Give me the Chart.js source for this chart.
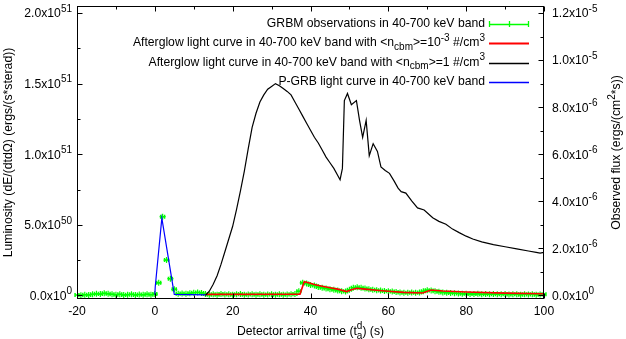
<!DOCTYPE html>
<html><head><meta charset="utf-8">
<script src="https://cdn.jsdelivr.net/npm/chart.js@4/dist/chart.umd.min.js"></script>
<style>html,body{margin:0;padding:0;background:#fff}#wrap{width:626px;height:339px}</style>
</head><body><div id="wrap"><canvas id="c" width="626" height="339"></canvas></div>
<script>
// Luminosity values are in units of 1e51 ergs/(s*sterad)
const grbmTime = [-20,-19,-18,-17,-16,-15,-14,-13,-12,-11,-10,-9,-8,-7,-6,-5,-4,-3,-2,-1,
  0,1,2,3,4,5,6,7,8,9,10,11,12,
  13,14,15,16,17,18,19,20,21,22,23,24,25,26,27,28,29,30,31,32,33,34,35,36,
  37,38,39,40,41,42,43,44,45,46,47,48,49,50,51,52,53,54,55,56,57,58,59,60,
  61,62,63,64,65,66,67,68,69,70,71,72,73,74,75,76,77,78,79,80,
  81,82,83,84,85,86,87,88,89,90,91,92,93,94,95,96,97,98,99,100];
const grbmLumE51 = [0.004,0.002,0.006,0.004,0.008,0.012,0.010,0.016,0.012,0.008,0.006,0.008,0.004,0.006,0.009,0.004,0.007,0.005,0.009,0.006,
  0.010,0.090,0.558,0.251,0.119,0.044,0.012,0.015,0.012,0.016,0.020,0.022,0.018,
  0.010,0.006,0.008,0.005,0.010,0.007,0.009,0.006,0.008,0.010,0.005,0.007,0.009,0.006,0.008,0.005,0.007,0.009,0.006,0.008,0.005,0.007,0.009,0.010,
  0.030,0.090,0.085,0.075,0.070,0.060,0.055,0.050,0.045,0.040,0.035,0.030,0.028,0.040,0.055,0.058,0.055,0.050,0.045,0.040,0.038,0.035,0.032,0.030,
  0.028,0.025,0.022,0.020,0.020,0.022,0.020,0.022,0.030,0.038,0.036,0.030,0.026,0.022,0.020,0.018,0.016,0.015,0.013,0.012,
  0.011,0.010,0.012,0.009,0.010,0.008,0.011,0.009,0.008,0.010,0.007,0.009,0.008,0.006,0.009,0.007,0.008,0.006,0.007,0.008];
const lowDensTime = [13,37.3,38.4,39.5,41,43,45,47,49.3,50.5,51.9,54,57,60,64,68.8,71,74,80,90,100];
const lowDensLumE51 = [0.008,0.010,0.098,0.090,0.078,0.066,0.055,0.045,0.028,0.040,0.051,0.045,0.037,0.030,0.022,0.018,0.039,0.032,0.025,0.017,0.012];
const highDensTime = [13,14,15,16,17,18,19,20,21,22,23,24,25,26,27,28,29,30,31,32,33,34,35,36,37,38,39,40,41,42,43,44,45,46,47,47.6,48.2,48.7,49.5,50.5,51.8,52.6,53.4,54.3,55.1,56.1,57.2,58.1,59.2,60.3,61.5,62.5,63.3,64.5,66,67.5,69.2,71.4,73,74.8,76.5,78.2,80,81.7,84,87,90,93,96,98,99,100];
const highDensLumE51 = [0.0,0.03,0.08,0.14,0.22,0.31,0.40,0.49,0.61,0.74,0.88,1.04,1.19,1.29,1.37,1.42,1.46,1.48,1.50,1.485,1.465,1.445,1.42,1.37,1.32,1.27,1.22,1.17,1.12,1.08,1.03,0.98,0.94,0.90,0.85,0.82,0.90,1.38,1.43,1.35,1.38,1.24,1.12,1.24,0.99,1.075,1.02,0.91,0.885,0.865,0.81,0.76,0.735,0.725,0.67,0.62,0.605,0.55,0.525,0.505,0.47,0.445,0.42,0.40,0.38,0.36,0.345,0.33,0.315,0.305,0.30,0.305];
const pgrbTime = [0,0.1,1.8,5,13];
const pgrbLumE51 = [0.005,0.06,0.547,0.008,0.004];

const xMajorTicks = [-20,0,20,40,60,80,100];
const xMinorTicks = [-10,10,30,50,70,90];
const yMajorTicksE51 = [0,0.5,1.0,1.5,2.0];
const yMinorTicksE51 = [0.25,0.75,1.25,1.75];
const yLabelMant = ['0.0','5.0','1.0','1.5','2.0'];
const yLabelExp = ['0','50','51','51','51'];
const y2MajorTicks = [0,2e-6,4e-6,6e-6,8e-6,1e-5,1.2e-5];
const y2MinorTicks = [1e-6,3e-6,5e-6,7e-6,9e-6,1.1e-5];
const y2LabelMant = ['0.0','2.0','4.0','6.0','8.0','1.0','1.2'];
const y2LabelExp = ['0','-6','-6','-6','-6','-5','-5'];
const fluxPerLumE51 = 6e-6;

const legendItems = [
  {parts:[['GRBM observations in 40-700 keV band']], color:'#00ff00', kind:'err'},
  {parts:[['Afterglow light curve in 40-700 keV band with <n'],['cbm','sub'],['>=10'],['-3','sup'],[' #/cm'],['3','sup']], color:'#ff0000'},
  {parts:[['Afterglow light curve in 40-700 keV band with <n'],['cbm','sub'],['>=1 #/cm'],['3','sup']], color:'#000000'},
  {parts:[['P-GRB light curve in 40-700 keV band']], color:'#0000ff'}
];

const FONT = '"Liberation Sans", Arial, Helvetica, sans-serif';
const FS = 12.2, SFS = 10;
function pw(ctx, p){
  if (p[1]==='stack'){ ctx.font = SFS+'px '+FONT; return Math.max(ctx.measureText(p[0]).width, ctx.measureText(p[2]).width); }
  ctx.font = (p[1]?SFS:FS)+'px '+FONT; return ctx.measureText(p[0]).width;
}
function richW(ctx, parts){ let w=0; for(const p of parts) w+=pw(ctx,p); return w; }
function drawRich(ctx, parts, x, y, align){
  const w = richW(ctx, parts);
  let cx = align==='right'? x-w : align==='center'? x-w/2 : x;
  ctx.textBaseline='middle'; ctx.textAlign='left';
  for(const p of parts){
    const wi = pw(ctx,p);
    if (p[1]==='sup'){ ctx.font=SFS+'px '+FONT; ctx.fillText(p[0],cx,y-5); }
    else if (p[1]==='sub'){ ctx.font=SFS+'px '+FONT; ctx.fillText(p[0],cx,y+4); }
    else if (p[1]==='stack'){ ctx.font=SFS+'px '+FONT; ctx.fillText(p[0],cx,y+4); ctx.fillText(p[2],cx,y-6); }
    else { ctx.font=FS+'px '+FONT; ctx.fillText(p[0],cx,y); }
    cx += wi;
  }
}

const grbmData = grbmTime.map((t,i)=>({x:t,y:grbmLumE51[i]}));
const lowData = lowDensTime.map((t,i)=>({x:t,y:lowDensLumE51[i]}));
const highData = highDensTime.map((t,i)=>({x:t,y:highDensLumE51[i]}));
const pgrbData = pgrbTime.map((t,i)=>({x:t,y:pgrbLumE51[i]}));

const errPlugin = {
  id:'err',
  beforeDatasetsDraw(chart){
    const ctx=chart.ctx, xs=chart.scales.x, ys=chart.scales.y;
    ctx.save(); ctx.strokeStyle='#00ff00'; ctx.lineWidth=1.5;
    ctx.beginPath();
    grbmTime.forEach((t,i)=>{
      const py = ys.getPixelForValue(grbmLumE51[i]);
      const a = xs.getPixelForValue(t-0.5), b = xs.getPixelForValue(t+0.5);
      ctx.moveTo(a,py); ctx.lineTo(b,py);
      ctx.moveTo(a,py-2); ctx.lineTo(a,py+2);
      ctx.moveTo(b,py-2); ctx.lineTo(b,py+2);
    });
    ctx.stroke(); ctx.restore();
  }
};

const framePlugin = {
  id:'frame',
  afterDraw(chart){
    const ctx=chart.ctx, a=chart.chartArea, xs=chart.scales.x, ys=chart.scales.y, y2=chart.scales.y2;
    ctx.save();
    ctx.strokeStyle='#000'; ctx.lineWidth=1;
    const L=Math.round(a.left)+0.5, R=Math.round(a.right)-0.5, T=Math.round(a.top)+0.5, B=Math.round(a.bottom)-0.5;
    ctx.strokeRect(L,T,R-L,B-T);
    ctx.beginPath();
    const tick=(ticks,len)=>{
      for(const v of ticks){ const px=Math.round(xs.getPixelForValue(v))+0.5;
        ctx.moveTo(px,B); ctx.lineTo(px,B-len); ctx.moveTo(px,T); ctx.lineTo(px,T+len); }
    };
    tick(xMajorTicks,5); tick(xMinorTicks,3);
    for(const v of yMajorTicksE51){ const py=Math.round(ys.getPixelForValue(v))+0.5; ctx.moveTo(L,py); ctx.lineTo(L+5,py); }
    for(const v of yMinorTicksE51){ const py=Math.round(ys.getPixelForValue(v))+0.5; ctx.moveTo(L,py); ctx.lineTo(L+3,py); }
    for(const v of y2MajorTicks){ const py=Math.round(y2.getPixelForValue(v))+0.5; ctx.moveTo(R,py); ctx.lineTo(R-5,py); }
    for(const v of y2MinorTicks){ const py=Math.round(y2.getPixelForValue(v))+0.5; ctx.moveTo(R,py); ctx.lineTo(R-3,py); }
    ctx.stroke();
    ctx.fillStyle='#000';
    xMajorTicks.forEach(v=>drawRich(ctx,[[String(v)]],xs.getPixelForValue(v),a.bottom+13,'center'));
    yMajorTicksE51.forEach((v,i)=>drawRich(ctx,[[yLabelMant[i]+'x10'],[yLabelExp[i],'sup']],a.left-5,ys.getPixelForValue(v)+1,'right'));
    y2MajorTicks.forEach((v,i)=>drawRich(ctx,[[y2LabelMant[i]+'x10'],[y2LabelExp[i],'sup']],a.right+8,y2.getPixelForValue(v)+1,'left'));
    drawRich(ctx,[['Detector arrival time (t'],['a','stack','d'],[') (s)']],(a.left+a.right)/2,a.bottom+33,'center');
    ctx.save(); ctx.translate(9,(a.top+a.bottom)/2); ctx.rotate(-Math.PI/2);
    drawRich(ctx,[['Luminosity (dE/(dtd\u03A9) (ergs/(s*sterad))']],0,0,'center'); ctx.restore();
    ctx.save(); ctx.translate(617,(a.top+a.bottom)/2); ctx.rotate(-Math.PI/2);
    drawRich(ctx,[['Observed flux (ergs/(cm'],['2','sup'],['*s))']],0,0,'center'); ctx.restore();
    const rows=[24,43,62.5,82];
    legendItems.forEach((it,i)=>{
      const y=rows[i];
      ctx.fillStyle='#000';
      drawRich(ctx,it.parts,485,y,'right');
      ctx.strokeStyle=it.color; ctx.lineWidth=(it.color==='#ff0000')?2:1.3;
      ctx.beginPath(); ctx.moveTo(489,Math.round(y)+0.5); ctx.lineTo(529,Math.round(y)+0.5);
      if(it.kind==='err'){ ctx.moveTo(489.5,y-3); ctx.lineTo(489.5,y+3); ctx.moveTo(528.5,y-3); ctx.lineTo(528.5,y+3); ctx.moveTo(509.5,y-3); ctx.lineTo(509.5,y+3); }
      ctx.stroke();
    });
    ctx.restore();
  }
};

new Chart(document.getElementById('c'),{
  type:'line',
  data:{datasets:[
    {label:'GRBM observations in 40-700 keV band',data:grbmData,showLine:false,pointStyle:'cross',pointRadius:3,borderColor:'#00ff00',backgroundColor:'#00ff00',borderWidth:1.2,order:4},
    {label:'Afterglow n=1e-3',data:lowData,borderColor:'#ff0000',borderWidth:1.6,pointRadius:0,tension:0,order:3},
    {label:'Afterglow n=1',data:highData,borderColor:'#000000',borderWidth:1.2,pointRadius:0,tension:0,order:2},
    {label:'P-GRB',data:pgrbData,borderColor:'#0000ff',borderWidth:1.2,pointRadius:0,tension:0,order:1}
  ]},
  options:{
    responsive:false, animation:false, devicePixelRatio:1,
    layout:{padding:{left:77,right:82,top:6,bottom:40}},
    plugins:{legend:{display:false},tooltip:{enabled:false}},
    scales:{
      x:{type:'linear',min:-20,max:100,display:false},
      y:{type:'linear',min:-0.0248,max:2.0496,display:false},
      y2:{type:'linear',position:'right',min:-0.0248*fluxPerLumE51,max:2.0496*fluxPerLumE51,display:false}
    }
  },
  plugins:[errPlugin,framePlugin]
});
</script></body></html>
